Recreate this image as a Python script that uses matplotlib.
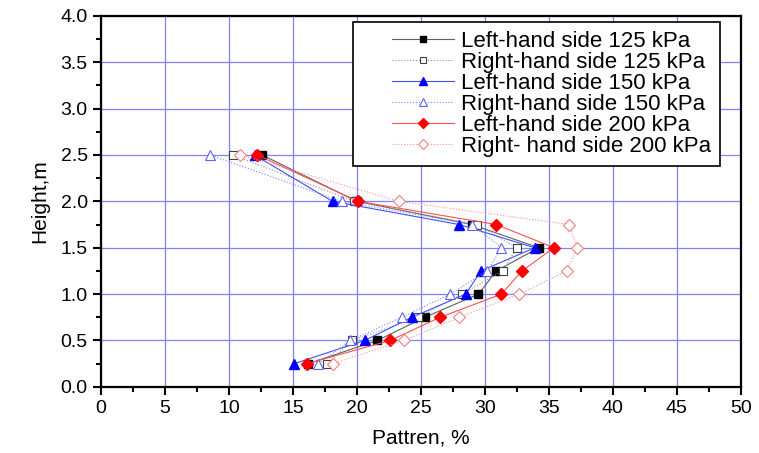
import matplotlib.pyplot as plt
import numpy as np
from matplotlib.legend_handler import HandlerLine2D

plt.rcParams['font.family'] = ['Liberation Sans', 'DejaVu Sans']

# heights of the measuring points, m
height = [0.25, 0.5, 0.75, 1.0, 1.25, 1.5, 1.75, 2.0, 2.5]

# pattern values, %
left_125 = [16.2, 21.6, 25.3, 29.5, 30.9, 34.2, 29.0, 20.0, 12.6]
right_125 = [17.7, 19.6, 24.8, 28.2, 31.4, 32.5, 29.4, 19.8, 10.3]
left_150 = [15.1, 20.6, 24.3, 28.5, 29.7, 33.9, 28.0, 18.1, 12.0]
right_150 = [17.0, 19.5, 23.5, 27.3, 30.2, 31.3, 29.0, 18.8, 8.5]
left_200 = [16.1, 22.6, 26.5, 31.3, 32.9, 35.4, 30.9, 20.1, 12.2]
right_200 = [18.1, 23.7, 28.0, 32.7, 36.4, 37.2, 36.6, 23.3, 10.9]


# legend handle drawn in the right part of the handle box, leaving a gap on the left
class GapHandler(HandlerLine2D):
    def create_artists(self, legend, orig_handle, xdescent, ydescent, width, height, fontsize, trans):
        gap = 0.33 * width
        return super().create_artists(legend, orig_handle, xdescent - gap, ydescent,
                                      width - gap, height, fontsize, trans)


fig = plt.figure(figsize=(7.59, 4.53), dpi=100)
ax = fig.add_axes([0.133, 0.146, 0.843, 0.819])

# grid first so it sits behind the data
ax.set_axisbelow(True)
ax.grid(True, color='#8080ff', linewidth=0.9)

ax.plot(left_125, height, '-', color='#606060', lw=0.8, marker='s', ms=6,
        mfc='black', mec='black', label='Left-hand side 125 kPa')
ax.plot(right_125, height, ':', color='#909090', lw=0.8, marker='s', ms=6,
        mfc='white', mec='#404040', mew=0.8, label='Right-hand side 125 kPa')
ax.plot(left_150, height, '-', color='#4050ff', lw=0.8, marker='^', ms=7,
        mfc='#0000ff', mec='#0000ff', label='Left-hand side 150 kPa')
ax.plot(right_150, height, ':', color='#8080ff', lw=0.8, marker='^', ms=7,
        mfc='white', mec='#6060ff', mew=0.8, label='Right-hand side 150 kPa')
ax.plot(left_200, height, '-', color='#ff5050', lw=0.8, marker='D', ms=6,
        mfc='#ff0000', mec='#ff0000', label='Left-hand side 200 kPa')
ax.plot(right_200, height, ':', color='#ff9090', lw=0.8, marker='D', ms=6,
        mfc='white', mec='#f08080', mew=0.8, label='Right- hand side 200 kPa')

ax.set_xlim(0, 50)
ax.set_ylim(0, 4.0)
ax.set_xticks(np.arange(0, 51, 5))
ax.set_yticks(np.arange(0, 4.01, 0.5))
ax.set_yticklabels(['%.1f' % v for v in np.arange(0, 4.01, 0.5)])
ax.set_xticks(np.arange(0, 51, 2.5), minor=True)
ax.set_yticks(np.arange(0, 4.01, 0.25), minor=True)
ax.tick_params(which='major', direction='out', length=6, width=1.5, labelsize=14, colors='black')
ax.tick_params(which='minor', direction='out', length=3.5, width=1.5)
for s in ax.spines.values():
    s.set_linewidth(1.6)

ax.set_xlabel('Pattren, %', fontsize=15, labelpad=8)
ax.set_ylabel('Height,m', fontsize=15, labelpad=8)

leg = ax.legend(loc='upper right', fontsize=16, frameon=True, fancybox=False,
                edgecolor='black', framealpha=1, handlelength=4.15, handletextpad=0.3,
                borderpad=0.4, labelspacing=0.0, markerscale=0.8,
                bbox_to_anchor=(0.967, 0.983), borderaxespad=0,
                handler_map={plt.Line2D: GapHandler()})
leg.get_frame().set_linewidth(1.2)

fig.savefig('out.png', dpi=100)
